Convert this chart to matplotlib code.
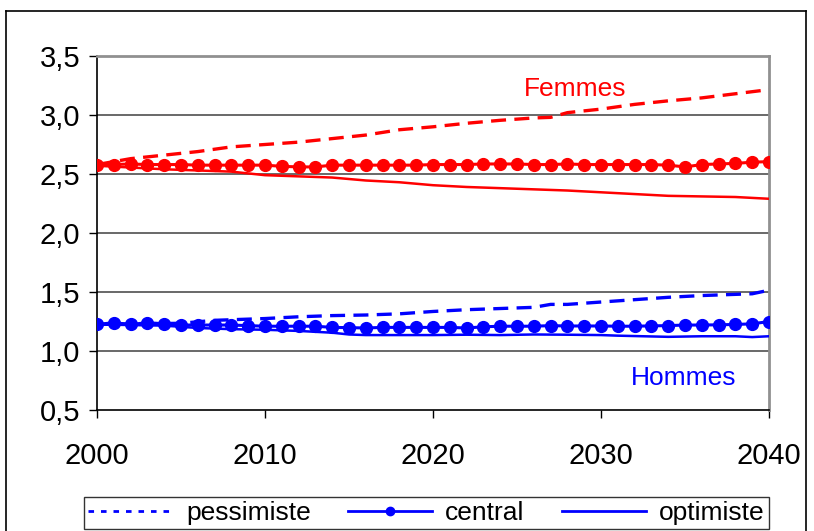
import matplotlib
matplotlib.use("Agg")
import matplotlib.pyplot as plt
from matplotlib.lines import Line2D
import numpy as np

plt.rcParams['font.family'] = ['Liberation Sans', 'DejaVu Sans']

years = list(range(2000, 2041))

femmes_central = [2.58, 2.58, 2.585, 2.58, 2.58, 2.58, 2.575, 2.575, 2.575, 2.575,
                  2.575, 2.565, 2.56, 2.56, 2.575, 2.575, 2.575, 2.575, 2.575, 2.575,
                  2.58, 2.58, 2.58, 2.585, 2.585, 2.585, 2.58, 2.58, 2.585, 2.58,
                  2.58, 2.58, 2.58, 2.58, 2.575, 2.56, 2.58, 2.585, 2.59, 2.60, 2.605]
femmes_pess_years = [2000, 2002, 2004, 2006, 2008, 2010, 2012, 2014, 2016, 2018, 2020,
                     2022, 2024, 2026, 2027, 2028, 2030, 2032, 2034, 2036, 2038, 2040]
femmes_pess = [2.58, 2.63, 2.66, 2.69, 2.73, 2.75, 2.77, 2.80, 2.83, 2.875, 2.90,
               2.93, 2.955, 2.975, 2.98, 3.02, 3.05, 3.09, 3.12, 3.145, 3.18, 3.215]
femmes_opt = [2.57, 2.555, 2.54, 2.53, 2.52, 2.49, 2.48, 2.47, 2.445, 2.43, 2.405,
              2.39, 2.38, 2.37, 2.36, 2.345, 2.33, 2.315, 2.31, 2.305, 2.29]

hommes_central = [1.225, 1.24, 1.225, 1.24, 1.23, 1.22, 1.22, 1.22, 1.22, 1.215,
                  1.21, 1.21, 1.21, 1.21, 1.20, 1.198, 1.195, 1.20, 1.20, 1.20,
                  1.20, 1.20, 1.195, 1.205, 1.21, 1.21, 1.21, 1.215, 1.212, 1.212,
                  1.212, 1.21, 1.21, 1.213, 1.215, 1.22, 1.22, 1.222, 1.225, 1.23, 1.25]
hommes_pess_years = [2000, 2005, 2007, 2010, 2012, 2014, 2016, 2018, 2020, 2022, 2024,
                     2026, 2027, 2028, 2030, 2032, 2034, 2036, 2038, 2039, 2040]
hommes_pess = [1.225, 1.235, 1.26, 1.275, 1.29, 1.30, 1.305, 1.315, 1.335, 1.35, 1.36,
               1.37, 1.395, 1.395, 1.415, 1.435, 1.455, 1.47, 1.48, 1.485, 1.515]
hommes_opt_years = [2000, 2004, 2006, 2008, 2010, 2012, 2014, 2015, 2016, 2018, 2020,
                    2022, 2024, 2026, 2028, 2030, 2031, 2034, 2036, 2038, 2039, 2040]
hommes_opt = [1.225, 1.215, 1.195, 1.185, 1.18, 1.17, 1.155, 1.14, 1.135, 1.135, 1.135,
              1.138, 1.135, 1.14, 1.138, 1.135, 1.13, 1.12, 1.125, 1.125, 1.118, 1.125]

opt_years = list(range(2000, 2041, 2))

y_ticks = [0.5, 1.0, 1.5, 2.0, 2.5, 3.0, 3.5]
y_labels = ["0,5", "1,0", "1,5", "2,0", "2,5", "3,0", "3,5"]
x_ticks = [2000, 2010, 2020, 2030, 2040]
legend_labels = ["pessimiste", "central", "optimiste"]

RED = "#FF0000"
BLUE = "#0000FF"

fig = plt.figure(figsize=(8.14, 5.31), dpi=100)
ax = fig.add_axes([97/814, 1-410/531, (769-97)/814, (410-56)/531])

dash = (0, (4.5, 2.5))
# Femmes
ax.plot(femmes_pess_years, femmes_pess, color=RED, lw=2.4, linestyle=dash, zorder=3)
ax.plot(years, femmes_central, color=RED, lw=2.2, marker='o', markersize=8.5, zorder=4)
ax.plot(opt_years, femmes_opt, color=RED, lw=1.8, zorder=3)
# Hommes
ax.plot(hommes_pess_years, hommes_pess, color=BLUE, lw=2.4, linestyle=dash, zorder=3)
ax.plot(years, hommes_central, color=BLUE, lw=2.2, marker='o', markersize=8.5, zorder=4)
ax.plot(hommes_opt_years, hommes_opt, color=BLUE, lw=1.8, zorder=3)

ax.set_xlim(2000, 2040)
ax.set_ylim(0.5, 3.5)
ax.set_xticks(x_ticks)
ax.set_xticklabels([str(t) for t in x_ticks])
ax.set_yticks(y_ticks)
ax.set_yticklabels(y_labels)
ax.tick_params(axis='both', direction='out', length=6, width=1, labelsize=21, color='black')
ax.tick_params(axis='x', pad=17)
ax.tick_params(axis='y', pad=6)

for y in y_ticks[1:-1]:
    ax.axhline(y, color='#404040', lw=1.1, zorder=1)

ax.spines['left'].set_color('black')
ax.spines['bottom'].set_color('black')
ax.spines['left'].set_linewidth(1.2)
ax.spines['bottom'].set_linewidth(1.2)
ax.spines['top'].set_color('#909090')
ax.spines['right'].set_color('#909090')
ax.spines['top'].set_linewidth(2)
ax.spines['right'].set_linewidth(2)

ax.text(2028.45, 3.22, "Femmes", color=RED, fontsize=19, ha='center', va='center')
ax.text(2034.9, 0.77, "Hommes", color=BLUE, fontsize=19, ha='center', va='center')

handles = [
    Line2D([], [], color=BLUE, lw=2, linestyle=(0, (2, 2.5))),
    Line2D([], [], color=BLUE, lw=2, marker='o', markersize=6),
    Line2D([], [], color=BLUE, lw=2),
]
leg = fig.legend(handles, legend_labels, loc='center', ncol=3,
                 bbox_to_anchor=((85+768)/2/814, 1-513/531),
                 fontsize=19, frameon=True, fancybox=False, edgecolor='black',
                 handlelength=3.2, handletextpad=0.5, columnspacing=1.4,
                 borderpad=0.15, borderaxespad=0)
leg.get_frame().set_linewidth(1.0)

# Outer frame
top = 1 - 11/531
l, r = 6/814, 806/814
fig.add_artist(Line2D([l, r], [top, top], color='black', lw=1.2, transform=fig.transFigure))
fig.add_artist(Line2D([l, l], [top, -0.05], color='black', lw=1.2, transform=fig.transFigure))
fig.add_artist(Line2D([r, r], [top, -0.05], color='black', lw=1.2, transform=fig.transFigure))

fig.savefig("out.png", dpi=100)
